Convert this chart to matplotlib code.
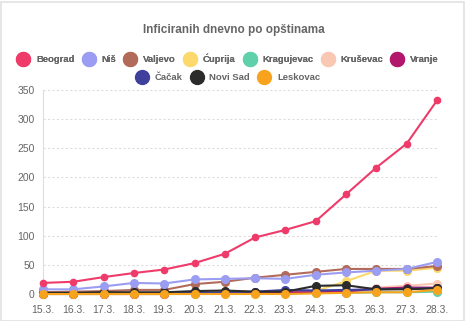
import matplotlib.pyplot as plt
from matplotlib.lines import Line2D
from matplotlib.patches import Rectangle

days = ["15.3.", "16.3.", "17.3.", "18.3.", "19.3.", "20.3.", "21.3.",
        "22.3.", "23.3.", "24.3.", "25.3.", "26.3.", "27.3.", "28.3."]

beograd = [19, 21, 29, 36, 42, 53, 69, 97, 110, 125, 171, 217, 258, 332]
nis = [8, 8, 13, 19, 18, 25, 26, 27, 26, 33, 37, 40, 43, 55]
valjevo = [3, 4, 5, 7, 7, 17, 21, 28, 33, 38, 43, 43, 43, 48]
cuprija = [0, 0, 0, 0, 0, 1, 1, 2, 3, 5, 22, 40, 40, 45]
kragujevac = [0, 0, 0, 0, 0, 0, 1, 1, 1, 2, 2, 3, 3, 4]
krusevac = [0, 0, 0, 0, 0, 1, 1, 1, 2, 3, 5, 11, 14, 18]
vranje = [0, 0, 0, 0, 0, 1, 2, 2, 3, 3, 4, 9, 11, 11]
cacak = [1, 1, 1, 1, 1, 2, 3, 4, 7, 6, 7, 8, 9, 10]
novi_sad = [2, 2, 3, 3, 3, 5, 6, 4, 4, 14, 15, 8, 8, 10]
leskovac = [0, 0, 0, 0, 0, 0, 0, 0, 0, 1, 2, 3, 3, 7]

names = ["Beograd", "Niš", "Valjevo", "Ćuprija", "Kragujevac", "Kruševac",
         "Vranje", "Čačak", "Novi Sad", "Leskovac"]
series = [beograd, nis, valjevo, cuprija, kragujevac, krusevac,
          vranje, cacak, novi_sad, leskovac]
colors = ["#ee3b6a", "#9b9df3", "#b26b5a", "#fcd96c", "#5fd0a9", "#f8c8b2",
          "#b3176c", "#3f3f9c", "#2b2b2b", "#f8a31d"]

plt.rcParams["font.family"] = ["Liberation Sans", "DejaVu Sans"]
grey = "#666666"

fig = plt.figure(figsize=(4.68, 3.21), dpi=100)
fig.patches.append(Rectangle((1 / 468, 0), 463 / 468, 319 / 321, transform=fig.transFigure,
                             facecolor="white", edgecolor="#e2e2e2", lw=1.2, zorder=-5))

ax = fig.add_axes([43 / 468, 1 - 294 / 321, 394 / 468, 204 / 321])
ax.set_facecolor("none")

x = list(range(len(days)))
n = len(series)
for i, (name, vals, col) in enumerate(zip(names, series, colors)):
    ms = 4.5 if i == 0 else 5.5
    ax.plot(x, vals, color=col, lw=1.5, marker="o", ms=ms, mec=col, mfc=col,
            clip_on=False, zorder=3 + (n - i) if i < 3 else 3 + i, label=name)

ax.set_xlim(0, len(days) - 1)
ax.set_ylim(0, 350)
ax.set_yticks(range(0, 351, 50))
ax.set_xticks(x)
ax.set_xticklabels(days)
ax.tick_params(axis="both", length=0, labelsize=7.5, labelcolor=grey)
ax.tick_params(axis="y", pad=6)
ax.tick_params(axis="x", pad=8)
ax.grid(axis="y", color="#dddddd", linestyle=(0, (2, 2)), lw=0.8)
for s in ["top", "right", "bottom"]:
    ax.spines[s].set_visible(False)
ax.spines["left"].set_color("#dddddd")
ax.spines["left"].set_linewidth(0.8)

fig.text(0.5, 1 - 30 / 321, "Inficiranih dnevno po opštinama", ha="center", va="center",
         fontsize=8.5, fontweight="bold", color=grey)


def legend_row(idx, y):
    handles = [Line2D([0], [0], marker="o", ls="none", ms=10, mfc=colors[k], mec=colors[k],
                      label=names[k]) for k in idx]
    leg = fig.legend(handles=handles, loc="center", bbox_to_anchor=(227.5 / 468, y),
                     ncol=len(idx), frameon=False, handletextpad=0.6, columnspacing=0.75,
                     handlelength=1.5, prop={"size": 6.8, "weight": "bold"}, labelcolor=grey,
                     borderaxespad=0, borderpad=0)
    return leg


fig.add_artist(legend_row(range(7), 1 - 59 / 321))
legend_row(range(7, 10), 1 - 78 / 321)

fig.savefig("out.png", dpi=100)
